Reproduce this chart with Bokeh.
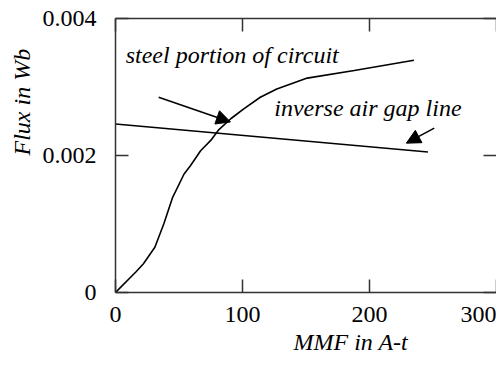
from bokeh.plotting import figure
from bokeh.models import LinearAxis, FixedTicker, Label, Arrow, NormalHead, Title
from bokeh.embed import file_html
from bokeh.resources import INLINE

# Data
steel_mmf = [0, 16, 22, 31, 38, 45, 54, 59, 67, 75, 81, 91, 101, 114, 127, 151, 188, 235]
steel_flux = [0, 0.0003, 0.00042, 0.00066, 0.001, 0.00139, 0.00173, 0.00185, 0.00207,
              0.00222, 0.00237, 0.00254, 0.00268, 0.00285, 0.00297, 0.00313, 0.00324, 0.00339]
airgap_mmf = [0, 246]
airgap_flux = [0.00246, 0.00205]

x_ticks = [0, 100, 200, 300]
x_tick_labels = ["0", "100", "200", "300"]
y_ticks = [0, 0.002, 0.004]
y_tick_labels = ["0", "0.002", "0.004"]

FONT = "Liberation Serif"
FS = "24px"
AX = "#333333"

p = figure(width=496, height=368, x_range=(0, 300), y_range=(0, 0.004),
           output_backend="svg", toolbar_location=None,
           min_border_left=115, min_border_right=0, min_border_top=18, min_border_bottom=76)
p.outline_line_color = None
p.xgrid.visible = False
p.ygrid.visible = False
p.background_fill_color = "white"
p.border_fill_color = "white"

def style_axis(ax, ticks, show_labels, overrides=None):
    ax.ticker = FixedTicker(ticks=ticks)
    ax.minor_tick_line_color = None
    ax.major_tick_in = 13
    ax.major_tick_out = 0
    ax.major_tick_line_color = AX
    ax.major_tick_line_width = 1.5
    ax.axis_line_color = AX
    ax.axis_line_width = 1.5
    ax.major_label_text_font = FONT
    ax.major_label_text_font_size = FS if show_labels else "0px"
    ax.major_label_text_color = "black"
    if overrides:
        ax.major_label_overrides = overrides

xb = p.xaxis[0]
yl = p.yaxis[0]
style_axis(xb, x_ticks, True, dict(zip(x_ticks, x_tick_labels)))
xb.major_label_standoff = 14
style_axis(yl, y_ticks, True, dict(zip(y_ticks, y_tick_labels)))
yl.major_label_standoff = 19

xt = LinearAxis()
style_axis(xt, x_ticks, False)
xt.major_label_standoff = 0
p.add_layout(xt, "above")

yr = LinearAxis()
style_axis(yr, y_ticks, False)
yr.major_label_standoff = 0
yr.axis_line_color = None
p.add_layout(yr, "right")

p.line(steel_mmf, steel_flux, line_color="black", line_width=1.6)
p.line(airgap_mmf, airgap_flux, line_color="black", line_width=1.6)

p.add_layout(Arrow(end=NormalHead(size=14, fill_color="black", line_color="black"),
                   x_start=34, y_start=0.00285, x_end=90.5, y_end=0.00249,
                   line_color="black", line_width=1.6))
p.add_layout(Arrow(end=NormalHead(size=14, fill_color="black", line_color="black"),
                   x_start=251, y_start=0.0024, x_end=229, y_end=0.00218,
                   line_color="black", line_width=1.6))

p.add_layout(Label(x=8, y=0.00346, text="steel portion of circuit", text_font=FONT,
                   text_font_size=FS, text_font_style="italic", text_color="black",
                   text_align="left", text_baseline="alphabetic"))
p.add_layout(Label(x=125, y=0.0027, text="inverse air gap line", text_font=FONT,
                   text_font_size=FS, text_font_style="italic", text_color="black",
                   text_align="left", text_baseline="alphabetic"))

# axis titles
p.add_layout(Title(text="MMF in A-t", align="left", offset=178, text_font=FONT,
                   text_font_size=FS, text_font_style="italic", text_color="black",
                   standoff=5), "below")
p.add_layout(Title(text="Flux in Wb", align="left", offset=137, text_font=FONT,
                   text_font_size=FS, text_font_style="italic", text_color="black",
                   standoff=10), "left")

open("out.html", "w").write(file_html(p, INLINE))
